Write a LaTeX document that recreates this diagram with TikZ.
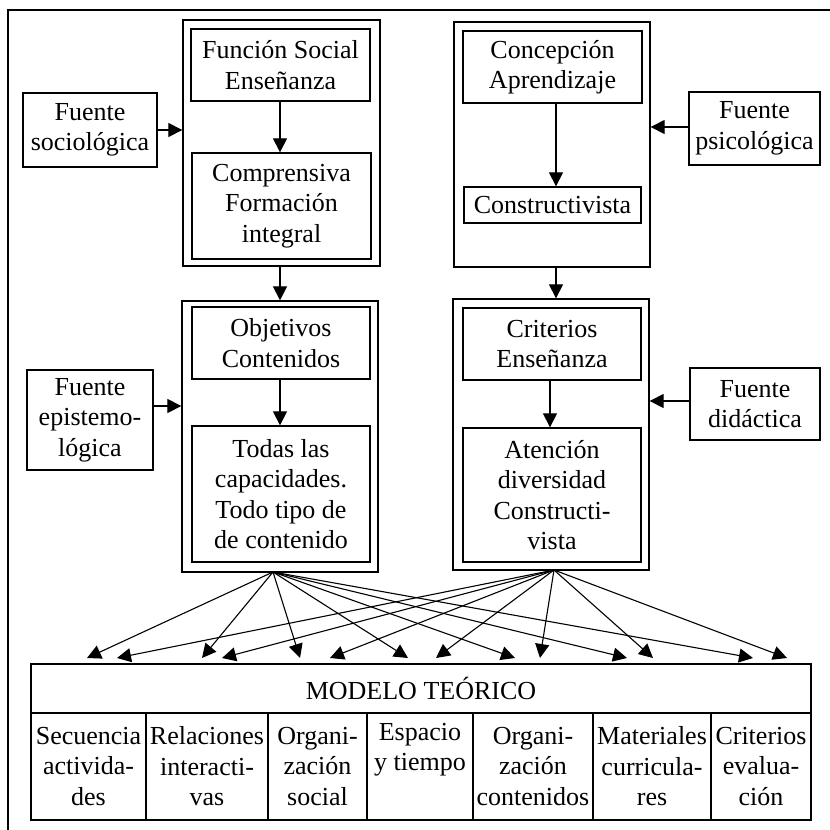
\documentclass[tikz,border=0pt]{standalone}
\usepackage{fontspec}
\setmainfont{Liberation Serif}
\usetikzlibrary{arrows.meta}
\begin{document}
\begin{tikzpicture}[x=1pt,y=-1pt,
 box/.style={draw, line width=1.3pt, inner sep=0pt, align=center, font=\fontsize{26}{30.5}\selectfont},
 frame/.style={draw, line width=1.3pt, inner sep=0pt},
 arr/.style={line width=1.2pt, -{Triangle[length=14pt,width=14pt]}},
 fan/.style={line width=1.1pt, -{Triangle[length=14pt,width=14pt]}}]
\useasboundingbox (0,0) rectangle (830,830);
\draw[line width=1.3pt] (8,830) -- (8,10) -- (830,10);

% top left group
\node[frame, minimum width=197pt, minimum height=246pt] (o1) at (281.5,143) {};
\node[box, minimum width=179pt, minimum height=72pt] (fse) at (280.5,65) {Función Social\\Enseñanza};
\node[box, minimum width=179pt, minimum height=106pt] (cfi) at (281.5,206) {Comprensiva\\Formación\\integral};
\node[box, minimum width=134pt, minimum height=74pt] (fsoc) at (90,130) {Fuente\\sociológica};

% top right group
\node[frame, minimum width=196pt, minimum height=245pt] (o2) at (552,144.5) {};
\node[box, minimum width=179pt, minimum height=72pt] (cap) at (552.5,67) {Concepción\\Aprendizaje};
\node[box, minimum width=177pt, minimum height=36pt] (con) at (552.5,205) {Constructivista};
\node[box, minimum width=131pt, minimum height=73pt] (fpsi) at (754.5,128.5) {Fuente\\psicológica};

% middle left group
\node[frame, minimum width=196pt, minimum height=271pt] (o3) at (280,436.5) {};
\node[box, minimum width=178pt, minimum height=72pt] (obj) at (281,343) {Objetivos\\Contenidos};
\node[box, minimum width=178pt, minimum height=136pt] (tod) at (281,494) {Todas las\\capacidades.\\Todo tipo de\\de contenido};
\node[box, minimum width=126pt, minimum height=100pt] (fepi) at (90,420) {Fuente\\epistemo-\\lógica};

% middle right group
\node[frame, minimum width=196pt, minimum height=271pt] (o4) at (551,434.5) {};
\node[box, minimum width=178pt, minimum height=72pt] (cri) at (552,344) {Criterios\\Enseñanza};
\node[box, minimum width=178pt, minimum height=134pt] (ate) at (552,495) {Atención\\diversidad\\Constructi-\\vista};
\node[box, minimum width=130pt, minimum height=72pt] (fdid) at (755,404) {Fuente\\didáctica};

% bottom model
\node[box, minimum width=780pt, minimum height=49pt] (mod) at (421,688.5) {MODELO TEÓRICO};
\node[box, minimum width=115pt, minimum height=107pt] (c1) at (88.5,766.5) {Secuencia\\activida-\\des};
\node[box, minimum width=122pt, minimum height=107pt] (c2) at (207,766.5) {Relaciones\\interacti-\\vas};
\node[box, minimum width=99pt, minimum height=107pt] (c3) at (317.5,766.5) {Organi-\\zación\\social};
\node[box, minimum width=106pt, minimum height=107pt] (c4) at (420,766.5) {Espacio\\y tiempo\\\strut};
\node[box, minimum width=120pt, minimum height=107pt] (c5) at (533,766.5) {Organi-\\zación\\contenidos};
\node[box, minimum width=118pt, minimum height=107pt] (c6) at (652,766.5) {Materiales\\curricula-\\res};
\node[box, minimum width=100pt, minimum height=107pt] (c7) at (761,766.5) {Criterios\\evalua-\\ción};

% arrows
\draw[arr] (fse.south -| 280,0) -- (cfi.north -| 280,0);
\draw[arr] (fsoc.east) -- (fsoc.east -| o1.west);
\draw[arr] (o1.south -| 280,0) -- (o3.north -| 280,0);
\draw[arr] (cap.south -| 556,0) -- (con.north -| 556,0);
\draw[arr] (fpsi.west |- 0,127) -- (o2.east |- 0,127);
\draw[arr] (o2.south -| 556,0) -- (o4.north -| 556,0);
\draw[arr] (obj.south -| 280,0) -- (tod.north -| 280,0);
\draw[arr] (fepi.east |- 0,406) -- (o3.west |- 0,406);
\draw[arr] (cri.south -| 550,0) -- (ate.north -| 550,0);
\draw[arr] (fdid.west |- 0,401) -- (o4.east |- 0,401);

% fan
\coordinate (sL) at (273,572);
\coordinate (sR) at (554,570);
\foreach \x [count=\i] in {87,202,300,408,515,627,753} {
  \coordinate (l\i) at (\x,658);
  \draw[fan] (sL) -- (l\i);
}
\foreach \x [count=\i] in {117,222,330,436,540,653,787} {
  \coordinate (r\i) at (\x,658);
  \draw[fan] (sR) -- (r\i);
}
\end{tikzpicture}
\end{document}
